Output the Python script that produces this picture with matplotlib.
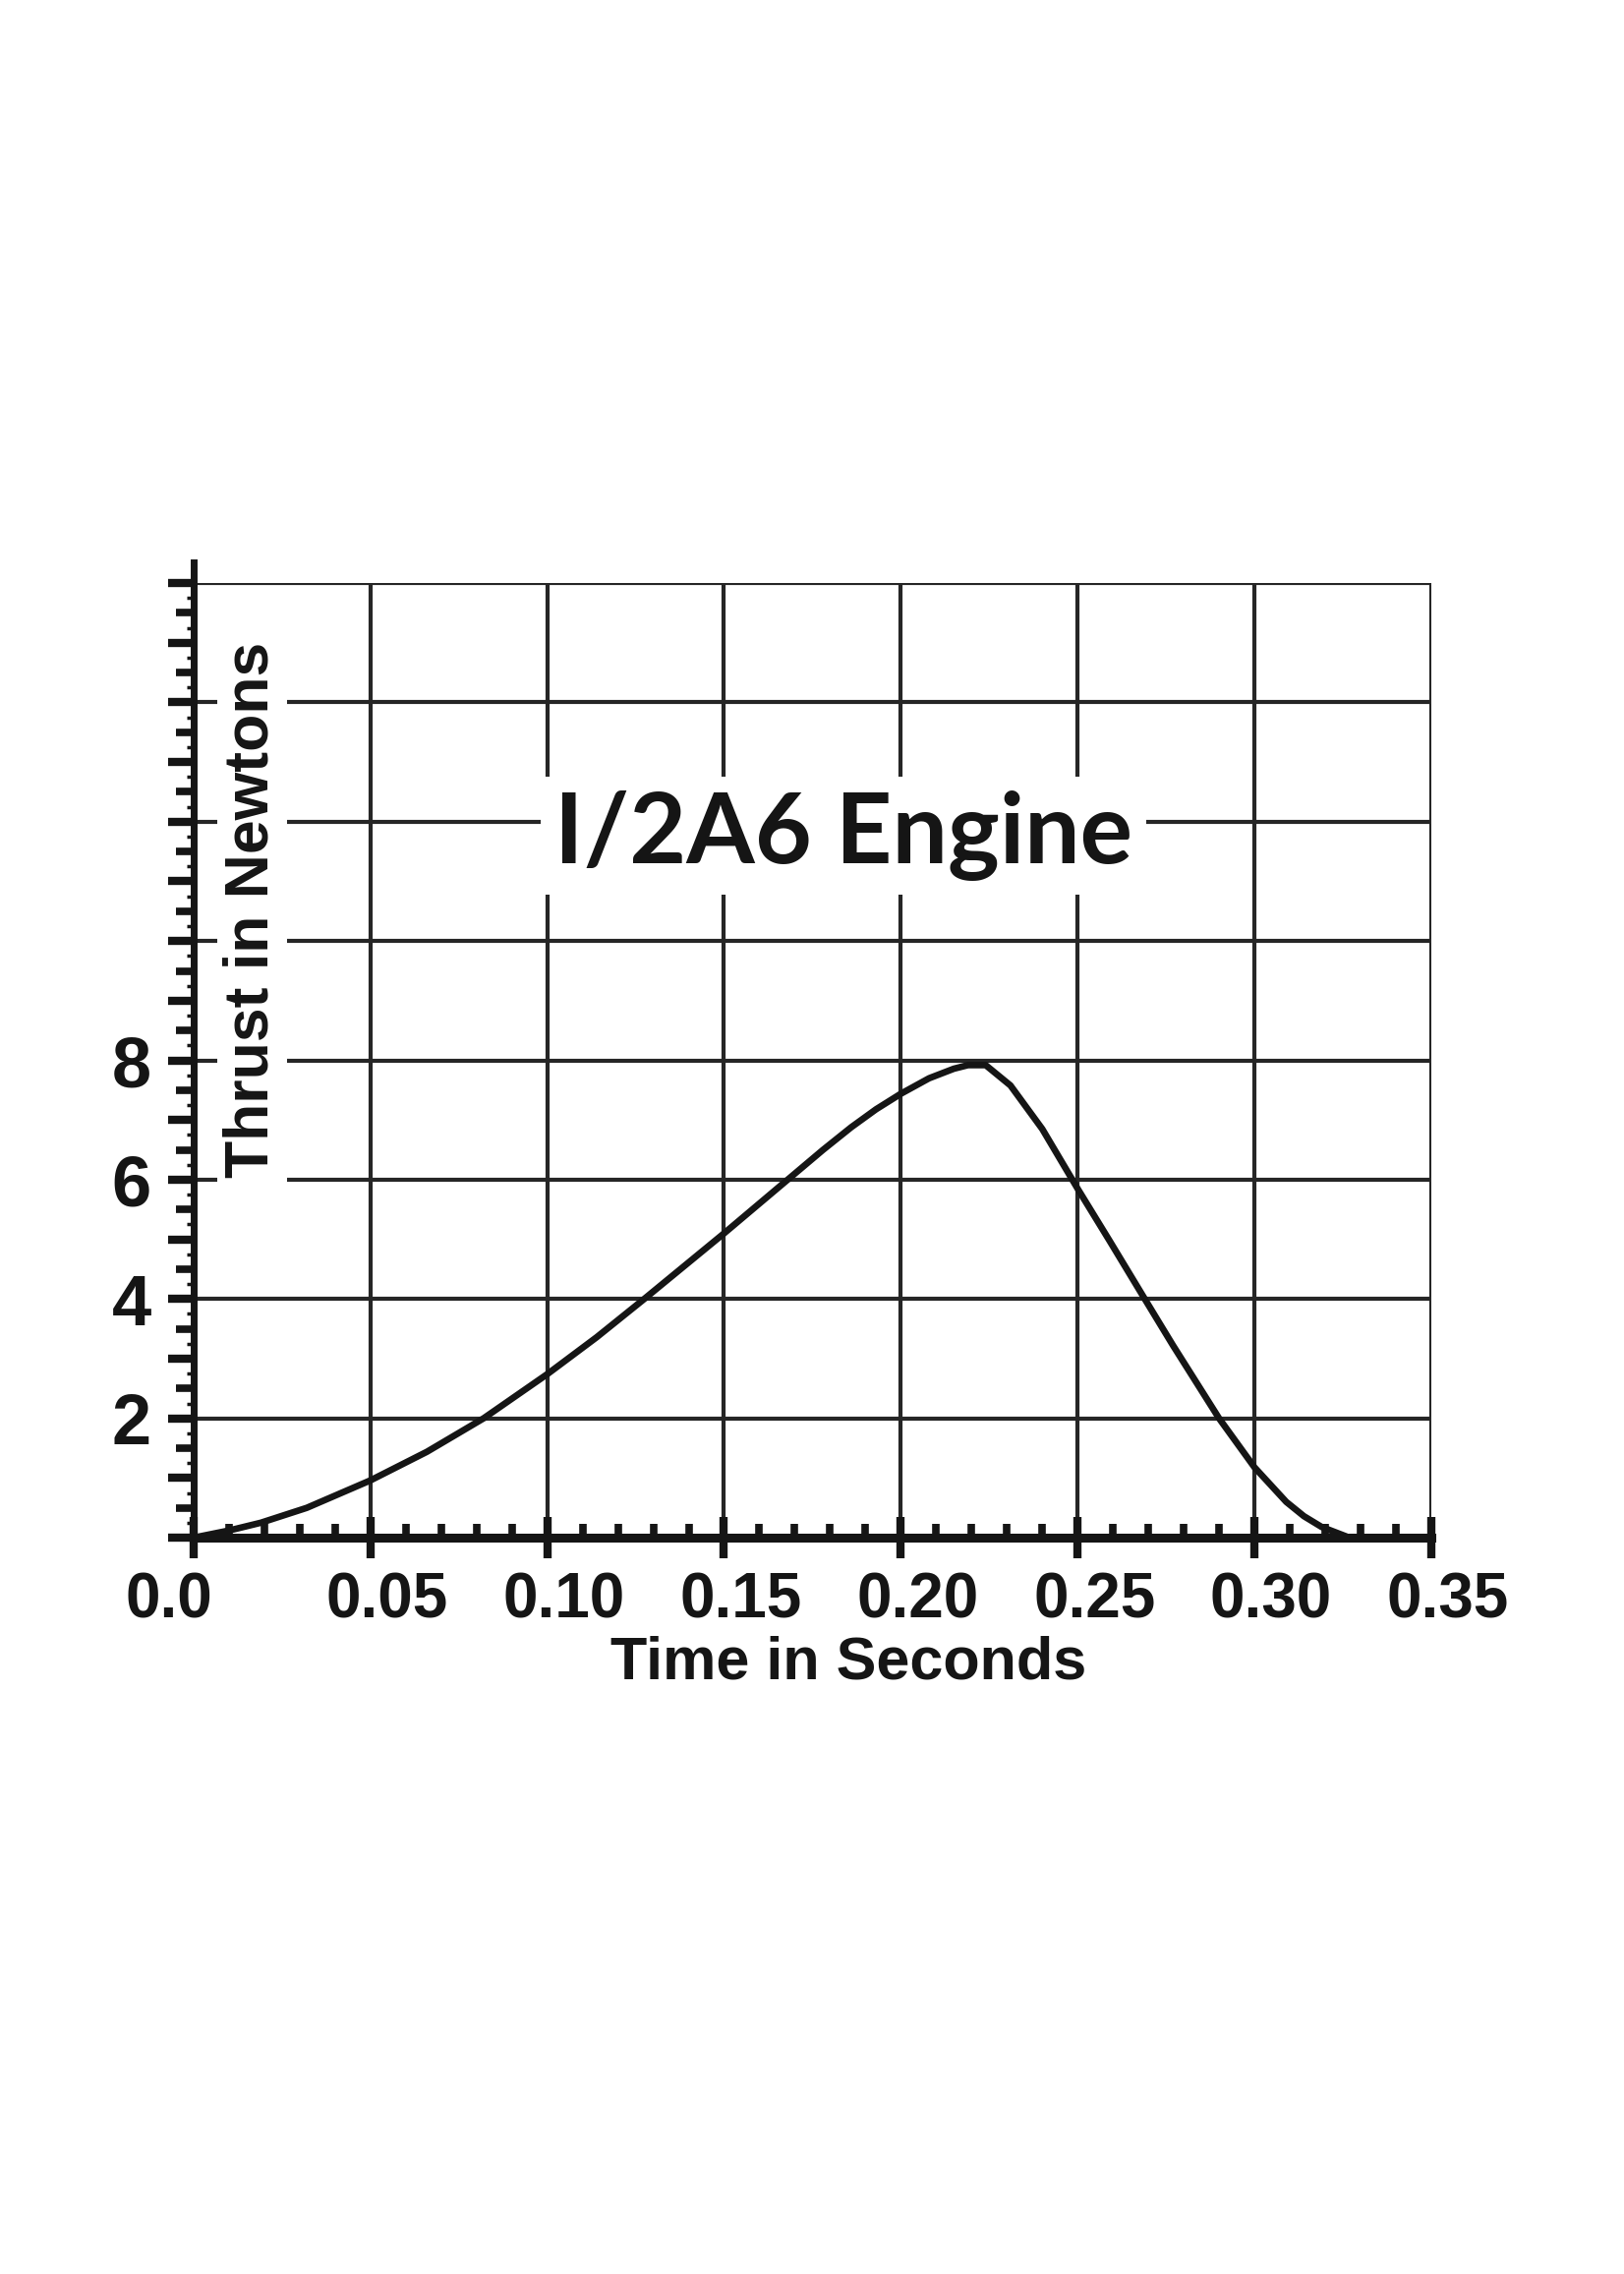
import matplotlib
matplotlib.use("Agg")
import matplotlib.pyplot as plt
import matplotlib.transforms as mtransforms
import numpy as np
from matplotlib.ticker import MultipleLocator, NullLocator

# thrust curve (seconds, newtons)
time_s = [0.000, 0.010, 0.019, 0.032, 0.050, 0.066, 0.082, 0.100, 0.114,
          0.127, 0.150, 0.168, 0.178, 0.186, 0.193, 0.200, 0.208, 0.215,
          0.219, 0.224, 0.231, 0.240, 0.248, 0.250, 0.259, 0.269, 0.277,
          0.290, 0.300, 0.309, 0.314, 0.319, 0.326]
thrust_n = [0.00, 0.12, 0.25, 0.50, 0.96, 1.44, 2.00, 2.74, 3.36,
            3.98, 5.10, 6.00, 6.50, 6.88, 7.18, 7.44, 7.70, 7.86,
            7.92, 7.92, 7.58, 6.85, 6.05, 5.85, 4.98, 4.00, 3.22,
            2.00, 1.18, 0.60, 0.36, 0.18, 0.02]

x_ticks = [0.0, 0.05, 0.10, 0.15, 0.20, 0.25, 0.30, 0.35]
x_tick_labels = ["0.0", "0.05", "0.10", "0.15", "0.20", "0.25", "0.30", "0.35"]
y_grid = [2, 4, 6, 8, 10, 12, 14, 16]
y_labelled = [2, 4, 6, 8]

title = "I/2A6 Engine"
x_title = "Time in Seconds"
y_title = "Thrust in Newtons"

ink = "#151515"
grid_ink = "#262626"
sans = ["Liberation Sans", "DejaVu Sans"]

fig = plt.figure(figsize=(16.52, 23.13), dpi=100)
ax = fig.add_axes([0.1192, 0.3238, 0.7621, 0.4198])
xmax, ymax = x_ticks[-1], y_grid[-1]
ax.set_xlim(0, xmax)
ax.set_ylim(0, ymax)

# grid (top and right edges are just the last grid lines)
ax.vlines(x_ticks[1:], 0, ymax, color=grid_ink, lw=3, zorder=1)
ax.hlines(y_grid, 0, xmax, color=grid_ink, lw=3, zorder=1)

ax.plot(time_s, thrust_n, color=ink, lw=4.8, zorder=4,
        solid_joinstyle="round", solid_capstyle="round")

# x axis
ax.set_xticks(x_ticks, x_tick_labels, fontsize=46, fontweight="bold", family=sans)
ax.xaxis.set_minor_locator(MultipleLocator(0.01))
ax.tick_params(axis="x", which="major", direction="inout", length=30, width=6,
               pad=10, color=ink, labelcolor=ink)
ax.tick_params(axis="x", which="minor", direction="in", length=10, width=5.5, color=ink)

# y axis: long ticks on whole newtons, labels only on a few
y_major = np.arange(0, ymax + 1, 1)
y_major_labels = [str(int(v)) if int(v) in y_labelled else "" for v in y_major]
ax.set_yticks(y_major, y_major_labels, fontsize=52, fontweight="bold", family=sans)
ax.yaxis.set_minor_locator(MultipleLocator(0.25))
ax.tick_params(axis="y", which="major", direction="out", length=19, width=6,
               pad=12, color=ink, labelcolor=ink)
ax.tick_params(axis="y", which="minor", direction="out", length=5, width=2.5, color=ink)

# medium ticks on the half newtons
half = ax.secondary_yaxis("left")
half.set_yticks(np.arange(0.5, ymax, 1))
half.yaxis.set_minor_locator(NullLocator())
half.tick_params(axis="y", direction="out", length=13, width=5.5, color=ink, labelleft=False)
half.spines["left"].set_visible(False)

for side in ("top", "right"):
    ax.spines[side].set_visible(False)
ax.spines["left"].set_linewidth(5)
ax.spines["left"].set_color(ink)
ax.spines["left"].set_bounds(0, ymax * 1.022)
ax.spines["bottom"].set_linewidth(6.5)
ax.spines["bottom"].set_color(ink)

# tick labels sit a little right of their ticks in the original, "0.0" left
for i, lab in enumerate(ax.get_xticklabels()):
    dx = -0.25 if i == 0 else 0.17
    lab.set_transform(lab.get_transform() +
                      mtransforms.ScaledTranslation(dx, 0, fig.dpi_scale_trans))

ax.set_xlabel(x_title, fontsize=44, fontweight="bold", family=sans, color=ink,
              va="baseline")
ax.xaxis.set_label_coords(0.529, -0.148)

ax.set_ylabel(y_title, fontsize=45, fontweight="bold", family=sans, color=ink,
              va="baseline",
              bbox=dict(boxstyle="square,pad=0.1", fc="white", ec="none"))
ax.yaxis.set_label_coords(0.0604, 0.658)

ax.text(0.525, 0.7065, title, transform=ax.transAxes, ha="center", va="baseline",
        fontsize=72, fontweight="bold", family=["Lato", "DejaVu Sans"], color=ink,
        bbox=dict(boxstyle="square,pad=0.14", fc="white", ec="none"), zorder=3)

fig.savefig("out.png", dpi=100, facecolor="white")
